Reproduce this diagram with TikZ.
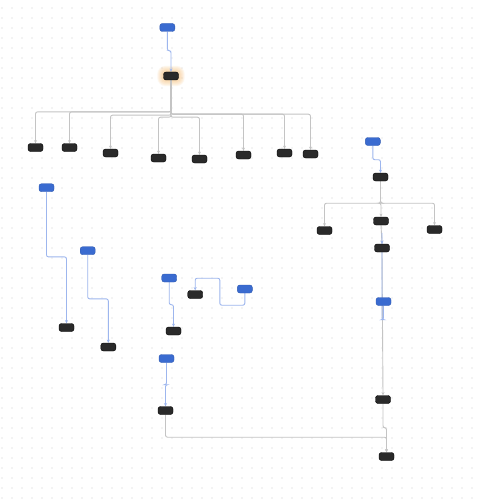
\documentclass[tikz,border=0pt]{standalone}
\usetikzlibrary{arrows.meta,calc,backgrounds}
\definecolor{bluenode}{HTML}{3A6BD0}
\definecolor{blueedge}{HTML}{9DB6EE}
\definecolor{grayedge}{HTML}{C4C4C4}
\definecolor{darknode}{HTML}{2A2A2A}
\definecolor{dotc}{HTML}{CFCFCF}
\definecolor{glowc}{HTML}{F8C27E}
\begin{document}
\begin{tikzpicture}[x=1pt,y=-1pt,
  nbase/.style={rectangle, rounded corners=2.5pt, minimum width=15pt, minimum height=8pt, inner sep=0pt, line width=0.4pt},
  bn/.style={nbase, fill=bluenode, draw=bluenode!85!black},
  kn/.style={nbase, fill=darknode, draw=black},
  tipstyle/.style={-{Stealth[length=3.2pt,width=3pt]}},
  ge/.style={draw=grayedge, line width=0.9pt, rounded corners=2pt, tipstyle},
  be/.style={draw=blueedge, line width=0.9pt, rounded corners=2pt, tipstyle},
  glow/.style={fill=glowc, opacity=0.13}
]
\useasboundingbox (0,0) rectangle (478,500);

% nodes
\node[bn] (B1) at (167.3,27.5) {};
\node[kn] (A1) at (171,76) {};
\node[kn] (C1) at (35.5,147.5) {};
\node[kn] (C2) at (69.5,147.5) {};
\node[kn] (C3) at (110.5,153) {};
\node[kn] (C4) at (158.5,158) {};
\node[kn] (C5) at (199.5,159) {};
\node[kn] (C6) at (243.5,155) {};
\node[kn] (C7) at (284.5,153) {};
\node[kn] (C8) at (310.5,154) {};
\node[bn] (B2) at (372.8,141.5) {};
\node[kn] (A2) at (380.5,177) {};
\node[kn] (D1) at (324.5,230.5) {};
\node[kn] (D2) at (381,221) {};
\node[kn] (D3) at (434.5,229.5) {};
\node[kn] (E) at (382,248) {};
\node[bn] (B3) at (383.5,301.5) {};
\node[kn] (F) at (383,399.5) {};
\node[kn] (G) at (386.5,456.5) {};
\node[bn] (B4) at (166.5,358.5) {};
\node[kn] (H) at (165.5,410.5) {};
\node[bn] (B5) at (46.5,187.7) {};
\node[kn] (K1) at (66.5,327.5) {};
\node[bn] (B6) at (87.7,250.7) {};
\node[kn] (K2) at (108.3,347) {};
\node[bn] (B7) at (169.2,278) {};
\node[kn] (K3) at (173.5,331) {};
\node[bn] (B8) at (244.8,289) {};
\node[kn] (K4) at (195.2,294.5) {};

\begin{scope}[on background layer]
  \fill[white] (0,0) rectangle (478,500);
  % dot grid
  \foreach \i in {0,...,47}{
    \foreach \j in {0,...,49}{
      \fill[dotc] (2+10*\i,8+10*\j) circle (0.65);
    }
  }
  % glow around A1
  \foreach \g in {1,...,6}{
    \fill[glow, rounded corners=\g pt+2.5pt] ($(A1.north west)+(-\g,-\g)$) rectangle ($(A1.south east)+(\g,\g)$);
  }
  % edges
  \draw[be] (B1.south) -- ++(0,19) -| (A1.north);
  \draw[ge] (A1.south) -- ++(0,31.7) -| (C1.north);
  \draw[ge] (A1.south) -- ++(0,31.7) -| (C2.north);
  \draw[ge] (A1.south) -- ++(0,35) -| (C3.north);
  \draw[ge] (A1.south) -- ++(0,37) -| (C4.north);
  \draw[ge] (A1.south) -- ++(0,37) -| (C5.north);
  \draw[ge] (A1.south) -- ++(0,34) -| (C6.north);
  \draw[ge] (A1.south) -- ++(0,34) -| (C7.north);
  \draw[ge] (A1.south) -- ++(0,34) -| (C8.north);
  \draw[be] (B2.south) -- ++(0,14) -| (A2.north);
  \draw[ge] (A2.south) -- ++(0,22) -| (D1.north);
  \draw[ge] (A2.south) -- ++(0,22) -| (D2.north);
  \draw[ge] (A2.south) -- ++(0,22) -| (D3.north);
  \draw[ge] (D2.south) -- (E.north);
  \draw[ge] (E.south) -- (F.north);
  \draw[be] (B3.south) -- ++(0,14) -| ($(E.north)+(0,-12)$) -- (E.north);
  \draw[ge] (F.south) -- ++(0,24) -| (G.north);
  \draw[ge] (H.south) -- ++(0,22.5) -| (G.north);
  \draw[be] (B4.south) -- ++(0,22) -| (H.north);
  \draw[be] (B5.south) -- ++(0,65) -| (K1.north);
  \draw[be] (B6.south) -- ++(0,44) -| (K2.north);
  \draw[be] (B7.south) -- ++(0,22.5) -| (K3.north);
  \draw[be] (B8.south) -- ++(0,12) -- ++(-25,0) -- ++(0,-27) -| (K4.north);
\end{scope}
\end{tikzpicture}
\end{document}
